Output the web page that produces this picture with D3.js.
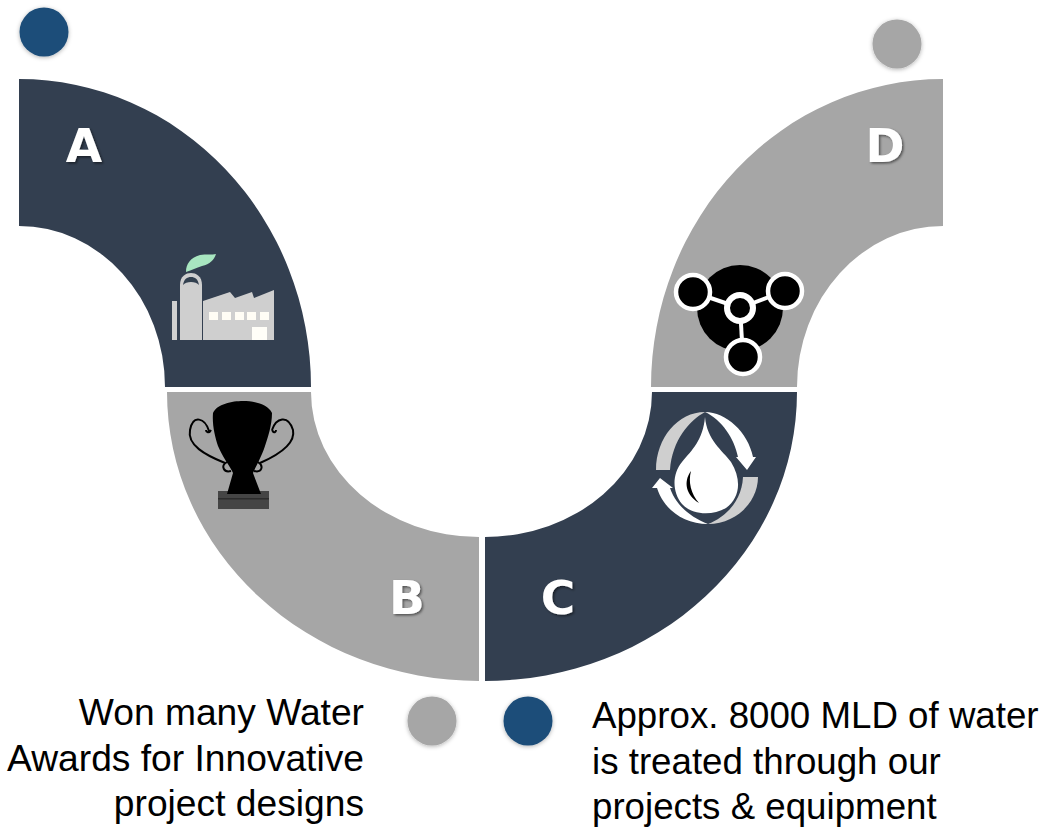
<!DOCTYPE html>
<html>
<head>
<meta charset="utf-8">
<script src="https://cdn.jsdelivr.net/npm/d3@7"></script>
<style>
html, body { margin: 0; padding: 0; background: #fff; }
svg { display: block; }
</style>
</head>
<body>
<div id="app"></div>
<script>
const width = 1040
const height = 827

// the four bends of the wave, each one a quarter turn
const categories = ['A', 'B', 'C', 'D']
const categoryShares = [25, 25, 25, 25]
const categoryColors = ['#333f50', '#a6a6a6', '#333f50', '#a6a6a6']
const dotColors = ['#1f4e79', '#a6a6a6', '#1f4e79', '#a6a6a6']
const captionB = ['Won many Water', 'Awards for Innovative', 'project designs']
const captionC = ['Approx. 8000 MLD of water', 'is treated through our', 'projects & equipment']

const svg = d3.select('#app').append('svg')
    .attr('width', width)
    .attr('height', height)
    .attr('viewBox', `0 0 ${width} ${height}`)

const defs = svg.append('defs')
defs.append('filter').attr('id', 'dotShadow')
    .attr('x', '-30%').attr('y', '-30%').attr('width', '160%').attr('height', '160%')
    .append('feDropShadow')
    .attr('dx', 0).attr('dy', 1).attr('stdDeviation', 2.2)
    .attr('flood-color', '#000').attr('flood-opacity', 0.3)
defs.append('filter').attr('id', 'letterShadow')
    .append('feDropShadow')
    .attr('dx', 1.5).attr('dy', 1.5).attr('stdDeviation', 1)
    .attr('flood-color', '#000').attr('flood-opacity', 0.5)
defs.append('filter').attr('id', 'soft')
    .append('feGaussianBlur').attr('stdDeviation', 0.45)

// angle of every bend comes from the shares, like a pie
const angle = d3.scaleLinear().domain([0, 100]).range([0, 2 * Math.PI])
const sweep = categoryShares.map(d => angle(d))

// layout of one bend: centre, outer and inner radii on both axes, start direction
const bends = [
    { cx: 19, cy: 387, ox: 292, oy: 308, ix: 146, iy: 161, start: 0, dir: 1 },
    { cx: 479, cy: 392, ox: 312, oy: 289, ix: 168, iy: 145, start: Math.PI, dir: 1 },
    { cx: 485, cy: 392, ox: 312, oy: 289, ix: 167, iy: 145, start: Math.PI, dir: -1 },
    { cx: 943, cy: 387, ox: 292, oy: 308, ix: 146, iy: 161, start: 0, dir: -1 },
]

const bendPath = (b, a) => {
    const p0 = b.start
    const p1 = b.start + b.dir * a
    const pt = (rx, ry, t) => [b.cx + rx * Math.sin(t), b.cy - ry * Math.cos(t)]
    const [ax, ay] = pt(b.ox, b.oy, p0)
    const [bx, by] = pt(b.ox, b.oy, p1)
    const [cx, cy] = pt(b.ix, b.iy, p1)
    const [dx, dy] = pt(b.ix, b.iy, p0)
    const fwd = p1 > p0 ? 1 : 0
    return `M${ax},${ay}A${b.ox},${b.oy} 0 0 ${fwd} ${bx},${by}L${cx},${cy}A${b.ix},${b.iy} 0 0 ${1 - fwd} ${dx},${dy}Z`
}

svg.append('g').selectAll('path')
    .data(categories)
    .join('path')
    .attr('d', (d, i) => bendPath(bends[i], sweep[i]))
    .attr('fill', (d, i) => categoryColors[i])

// letters
const letterPos = [[84, 162], [407, 614], [558, 614], [885, 162]]
svg.append('g').selectAll('text')
    .data(categories)
    .join('text')
    .attr('x', (d, i) => letterPos[i][0])
    .attr('y', (d, i) => letterPos[i][1])
    .attr('text-anchor', 'middle')
    .attr('font-family', 'DejaVu Sans')
    .attr('font-weight', 'bold')
    .attr('font-size', 47)
    .attr('fill', '#fff')
    .attr('filter', 'url(#letterShadow)')
    .text(d => d)

// dots
const dotPos = [[44, 32], [432, 721], [528, 721], [897, 44]]
svg.append('g').selectAll('circle')
    .data(categories)
    .join('circle')
    .attr('cx', (d, i) => dotPos[i][0])
    .attr('cy', (d, i) => dotPos[i][1])
    .attr('r', 24.5)
    .attr('fill', (d, i) => dotColors[i])
    .attr('filter', 'url(#dotShadow)')

// captions
const caption = (lines, x, y0, anchor, size) => svg.append('g').selectAll('text')
    .data(lines)
    .join('text')
    .attr('x', x)
    .attr('y', (d, i) => y0 + i * 45.5)
    .attr('text-anchor', anchor)
    .attr('font-family', 'Liberation Sans')
    .attr('font-size', size)
    .attr('fill', '#000')
    .text(d => d)

caption(captionB, 364, 725, 'end', 37.2)
caption(captionC, 592, 728, 'start', 36.7)

// factory icon
const factory = svg.append('g').attr('filter', 'url(#soft)')
factory.append('path')
    .attr('d', 'M186,272C186,264 190,258 200,255C206,254 212,255 216,254C214,260 210,264 202,266C196,268 192,270 186,272Z')
    .attr('fill', '#a8e6c0')
factory.append('rect').attr('x', 172).attr('y', 301).attr('width', 5).attr('height', 39).attr('fill', '#cfcfcf')
factory.append('path')
    .attr('d', 'M180,340V285C180,276 186,273 191,273C196,273 202,276 202,285V340Z')
    .attr('fill', '#cfcfcf')
factory.append('path')
    .attr('d', 'M183,285C184,279 187,277 191,277C195,277 198,279 199,285C196,281 186,281 183,285Z')
    .attr('fill', '#333f50')
factory.append('path')
    .attr('d', 'M203,301L230,292L235,298L252,292L254,298L274,290V340H203Z')
    .attr('fill', '#cfcfcf')
factory.selectAll('.win')
    .data([209, 222, 235, 247, 260])
    .join('rect')
    .attr('x', d => d).attr('y', 312).attr('width', 9).attr('height', 8)
    .attr('fill', '#fffdf5')
factory.append('rect').attr('x', 252).attr('y', 327).attr('width', 15).attr('height', 13).attr('fill', '#fffef8')

// trophy icon
const trophy = svg.append('g')
trophy.append('rect').attr('x', 218).attr('y', 491).attr('width', 51).attr('height', 18).attr('fill', '#454545')
trophy.append('rect').attr('x', 218).attr('y', 498).attr('width', 51).attr('height', 1.5).attr('fill', '#2c2c2c')
trophy.append('path')
    .attr('d', 'M213,413C217,404 232,401 243,401C254,401 268,404 272,413C272,425 268,437 265,446C261,458 256,466 253,473L261,494H227L233,473C230,466 223,458 218,446C215,437 212,425 213,413Z')
    .attr('fill', '#000')
trophy.append('g').attr('fill', 'none').attr('stroke', '#000').attr('stroke-width', 2)
    .selectAll('path')
    .data([
        'M209,431C205,418 193,414 190,430C187,445 205,455 225,463M211,430C209,434 206,432 206,430',
        'M272,430C276,418 288,414 293,430C296,445 276,456 260,463M272,430C274,434 276,432 276,430',
        'M227,462C220,466 224,473 231,471',
        'M258,462C264,466 262,473 254,471',
    ])
    .join('path')
    .attr('d', d => d)

// molecule icon
const molecule = svg.append('g')
molecule.append('circle').attr('cx', 740).attr('cy', 308).attr('r', 43).attr('fill', '#000')
molecule.append('g').attr('stroke', '#fff').attr('stroke-width', 4)
    .selectAll('line')
    .data([[693, 292], [785, 291], [743, 357]])
    .join('line')
    .attr('x1', 740).attr('y1', 308)
    .attr('x2', d => d[0]).attr('y2', d => d[1])
molecule.selectAll('circle.n')
    .data([[693, 292, 17], [785, 291, 17], [743, 357, 17], [740, 308, 13]])
    .join('circle')
    .attr('class', 'n')
    .attr('cx', d => d[0]).attr('cy', d => d[1]).attr('r', d => d[2])
    .attr('fill', '#000')
    .attr('stroke', '#fff')
    .attr('stroke-width', (d, i) => i === 3 ? 6 : 4.5)

// water icon
const water = svg.append('g').attr('filter', 'url(#soft)')
water.append('path')
    .attr('d', 'M705,417C707,440 722,450 731,462C742,480 740,498 726,508C712,516 692,515 682,504C672,492 672,474 682,462C692,450 703,440 705,417Z')
    .attr('fill', '#fff')
water.append('path')
    .attr('d', 'M691,471C683,482 686,495 699,503C691,494 688,482 691,471Z')
    .attr('fill', '#000')
water.append('path')
    .attr('d', 'M656,470C656,438 678,412 705,412C690,420 672,440 670,470Z')
    .attr('fill', '#cfcfcf')
water.append('path')
    .attr('d', 'M705,412C726,412 748,432 753,457L756,457L747,470L736,457L738,457C734,438 722,420 705,412Z')
    .attr('fill', '#fff')
water.append('path')
    .attr('d', 'M758,477C758,502 736,524 708,524C724,518 742,502 743,477Z')
    .attr('fill', '#cfcfcf')
water.append('path')
    .attr('d', 'M708,524C684,524 664,510 657,488H652L660,478L673,488H670C676,506 692,518 708,524Z')
    .attr('fill', '#fff')
</script>
</body>
</html>
